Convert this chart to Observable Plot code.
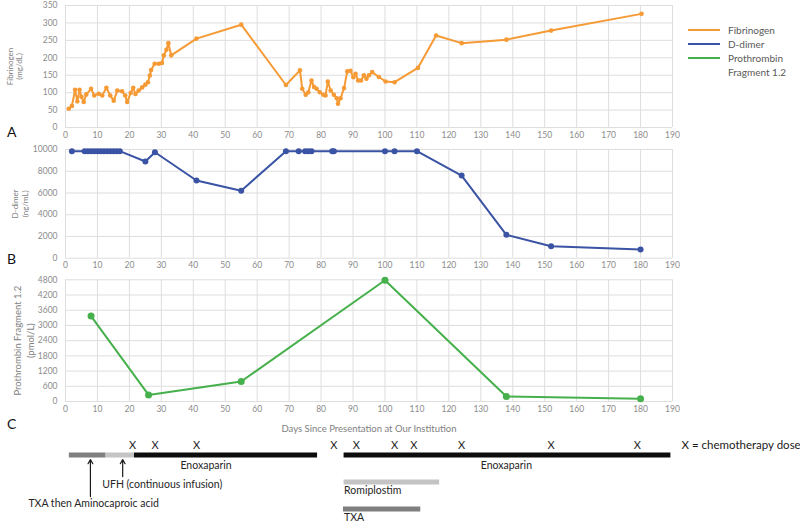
<!DOCTYPE html>
<html><head><meta charset="utf-8">
<script src="https://cdn.jsdelivr.net/npm/d3@7"></script>
<script src="https://cdn.jsdelivr.net/npm/@observablehq/plot@0.6"></script>
<style>
body{margin:0;background:#fff;}
#root{position:relative;width:800px;height:523px;font-family:Lato,"Open Sans",sans-serif;overflow:hidden;background:#fff}
#root > svg, #root > figure{position:absolute;left:0;margin:0}
.lab{position:absolute;font-size:14px;color:#111;line-height:1}
.leg{position:absolute;left:688px;font-size:10px;color:#595959;line-height:1}
.leg span.l{position:absolute;left:0;width:32px;height:2px}
.leg span.t{position:absolute;left:40px;white-space:nowrap;transform:translateY(-50%)}
</style></head><body><div id="root"></div>
<script>
// ---- data ----
const xTicks = d3.range(0, 191, 10);

const fibDays = [1,2,3,3.7,4.4,5,5.7,6.5,8,9,10.4,11.5,12.8,14,15.1,16.2,17.7,18.7,19.3,20.4,21.2,21.9,22.9,24,25,25.8,26.4,26.8,27.9,29.2,30.2,30.8,31.6,32.2,33.1,41,55,69,73.4,74.1,75.2,76,77,77.8,78.6,79.6,80.7,81.4,82.1,83,84,84.9,85.3,86.1,87.2,88.2,89.2,90.1,90.8,91.6,92.5,93.4,94.2,95,96,98.1,100.2,103,110.3,116,124,138,152,180.3];
const fibValues = [54,62,108,75,108,88,73,95,111,92,97,92,114,92,77,106,104,92,73,99,114,96,106,115,123,130,149,165,183,183,185,207,223,242,207,255,295,122,164,111,94,101,135,116,111,101,94,92,132,106,94,84,68,84,113,161,163,144,154,135,135,150,140,150,159,145,132,130,171,264,242,252,278,326];
const fibTicks = d3.range(0, 351, 50);

const ddDays = [2,6,7,8,9,10,11,12,13,14,15,16,17,25,28,41,55,69,73,75,76,77,83.5,84,100,103,110,124,138,152,180];
const ddValues = [9850,9850,9850,9850,9850,9850,9850,9850,9850,9850,9850,9850,9850,8900,9750,7150,6200,9850,9850,9850,9850,9850,9850,9850,9850,9850,9850,7600,2150,1100,800];
const ddTicks = d3.range(0, 10001, 2000);

const pfDays = [8,26,55,100,138,180];
const pfValues = [3370,260,790,4780,200,110];
const pfTicks = d3.range(0, 4801, 600);

const chemoDays = [21,28,41,84,91,103,109,124,152,179];

const regName  = ["TXA then Aminocaproic acid","UFH","Enoxaparin","Enoxaparin","Romiplostim","TXA"];
const regStart = [1.2,12.7,21.6,87.2,87.2,87];
const regEnd   = [12.7,21.6,78.9,189.5,117.1,111.2];
const regRow   = [0,0,0,0,1,2];
const regColor = ["#7f7f7f","#c4c4c4","#0d0d0d","#0d0d0d","#c4c4c4","#7f7f7f"];

const barLabelText = ["Enoxaparin","Enoxaparin","Romiplostim","TXA"];
const barLabelDay  = [44,138,87.2,87.2];
const barLabelRow  = [0,0,1,2];
const barLabelAnchor = ["middle","middle","start","start"];

const arrowText = ["TXA then Aminocaproic acid","UFH (continuous infusion)"];
const arrowDay  = [7.8,17.9];
const arrowFromRow = [1.54,0.8];
const arrowToRow   = [0.17,0.17];
const arrowTextDay = [8.8,11.5];
const arrowTextRow = [1.8,1.09];
const arrowTextAnchor = ["middle","start"];

// ---- drawing ----
const root = document.getElementById("root");
const FONT = 'Lato, "Open Sans", sans-serif';
const GRID = "#dedede";

function panel({days, values, color, ticks, yMax, top, mTop, innerH, mBottom, title, titleDx, titleSize, titleLH, r, xTitle}) {
  const data = days.map((d, i) => ({day: d, value: values[i]}));
  const marks = [
    Plot.gridX(xTicks, {stroke: GRID, strokeOpacity: 1}),
    Plot.gridY(ticks, {stroke: GRID, strokeOpacity: 1}),
    Plot.axisX(xTicks, {tickSize: 0, tickPadding: 4, label: null, fill: "#8c8c8c", fontSize: 8.5}),
    Plot.axisY(ticks, {tickSize: 0, tickPadding: 8, label: null, fill: "#8c8c8c", fontSize: 8.5, tickFormat: d3.format("d")}),
    Plot.line(data, {x: "day", y: "value", stroke: color, strokeWidth: 2}),
    Plot.dot(data, {x: "day", y: "value", fill: color, r}),
    Plot.text([title], {text: d => d, frameAnchor: "left", textAnchor: "middle", lineAnchor: "middle", rotate: -90, dx: titleDx, fill: "#7f7f7f", fontSize: titleSize, lineHeight: titleLH})
  ];
  if (xTitle) marks.push(Plot.text([xTitle], {text: d => d, frameAnchor: "bottom", lineAnchor: "middle", dy: 27, fill: "#7f7f7f", fontSize: 9.5}));
  const p = Plot.plot({
    width: 800, height: mTop + innerH + mBottom,
    marginLeft: 65, marginRight: 128, marginTop: mTop, marginBottom: mBottom,
    style: {fontFamily: FONT, fontSize: "10px", background: "transparent", overflow: "visible"},
    x: {domain: [0, 190]},
    y: {domain: [0, yMax]},
    marks
  });
  p.style.top = top + "px";
  root.appendChild(p);
}

panel({days: fibDays, values: fibValues, color: "#f59a35", ticks: fibTicks, yMax: 350,
  top: 0, mTop: 5, innerH: 122, mBottom: 18, title: "Fibrinogen\n(mg/dL)", titleDx: -50.5, titleSize: 8, titleLH: 1.1, r: 2.3});
panel({days: ddDays, values: ddValues, color: "#3a53a4", ticks: ddTicks, yMax: 10000,
  top: 140, mTop: 9, innerH: 108.7, mBottom: 18.3, title: "D-dimer\n(ng/mL)", titleDx: -45.5, titleSize: 8, titleLH: 1.15, r: 3});
panel({days: pfDays, values: pfValues, color: "#46b04c", ticks: pfTicks, yMax: 4800,
  top: 272, mTop: 7.3, innerH: 121.7, mBottom: 36, title: "Prothrombin Fragment 1.2\n(pmol/L)", titleDx: -42.5, titleSize: 9.5, titleLH: 1.4, r: 3.5,
  xTitle: "Days Since Presentation at Our Institution"});

// timeline
const regs = regName.map((n, i) => ({name: n, start: regStart[i], end: regEnd[i], row: regRow[i], color: regColor[i]}));
const chemo = chemoDays.map(d => ({day: d, row: 0}));
const barLabels = barLabelText.map((t, i) => ({t, day: barLabelDay[i], row: barLabelRow[i], anchor: barLabelAnchor[i]}));
const arrows = arrowText.map((t, i) => ({t, day: arrowDay[i], from: arrowFromRow[i], to: arrowToRow[i], tday: arrowTextDay[i], trow: arrowTextRow[i], anchor: arrowTextAnchor[i]}));

const tl = Plot.plot({
  width: 800, height: 88,
  marginLeft: 65, marginRight: 128, marginTop: 0, marginBottom: 0,
  style: {fontFamily: FONT, fontSize: "11px", background: "transparent", overflow: "visible"},
  x: {domain: [0, 190], axis: null},
  y: {domain: [-0.722, 2.537], range: [0, 88], axis: null},
  marks: [
    Plot.ruleY(regs, {x1: "start", x2: "end", y: "row", stroke: "color", strokeWidth: 5}),
    Plot.text(chemo, {x: "day", y: "row", text: () => "X", dy: -9.5, fill: "#262626", fontSize: 11}),
    Plot.text(["X = chemotherapy dose"], {x: 190, y: 0, text: d => d, dx: 9, dy: -9.5, textAnchor: "start", fill: "#1a1a1a", fontSize: 11.5}),
    Plot.text(barLabels.filter(d => d.anchor === "middle"), {x: "day", y: "row", text: "t", dy: 10.5, textAnchor: "middle", fill: "#262626", fontSize: 10.5}),
    Plot.text(barLabels.filter(d => d.anchor === "start"), {x: "day", y: "row", text: "t", dy: 9, textAnchor: "start", fill: "#262626", fontSize: 10.5}),
    Plot.arrow(arrows, {x1: "day", x2: "day", y1: "from", y2: "to", stroke: "#1a1a1a", strokeWidth: 1.2, headLength: 6}),
    Plot.text(arrows.filter(d => d.anchor === "middle"), {x: "tday", y: "trow", text: "t", textAnchor: "middle", fill: "#262626", fontSize: 10.5}),
    Plot.text(arrows.filter(d => d.anchor === "start"), {x: "tday", y: "trow", text: "t", textAnchor: "start", fill: "#262626", fontSize: 10.5})
  ]
});
tl.style.top = "435px";
root.appendChild(tl);

// panel letters
[["A", 125], ["B", 252], ["C", 417]].forEach(([t, y]) => {
  const d = document.createElement("div");
  d.className = "lab"; d.textContent = t;
  d.style.left = "7px"; d.style.top = y + "px";
  root.appendChild(d);
});

// legend
const legNames = ["Fibrinogen", "D-dimer", "Prothrombin\nFragment 1.2"];
const legColors = ["#f59a35", "#3a53a4", "#46b04c"];
const legY = [30, 43.5, 58];
legNames.forEach((n, i) => {
  const g = document.createElement("div");
  g.className = "leg"; g.style.top = legY[i] + "px";
  const l = document.createElement("span"); l.className = "l"; l.style.background = legColors[i]; l.style.top = "-1px";
  g.appendChild(l);
  n.split("\n").forEach((line, j) => {
    const t = document.createElement("span"); t.className = "t"; t.textContent = line; t.style.top = (j * 14) + "px";
    g.appendChild(t);
  });
  root.appendChild(g);
});
</script>
</body></html>
